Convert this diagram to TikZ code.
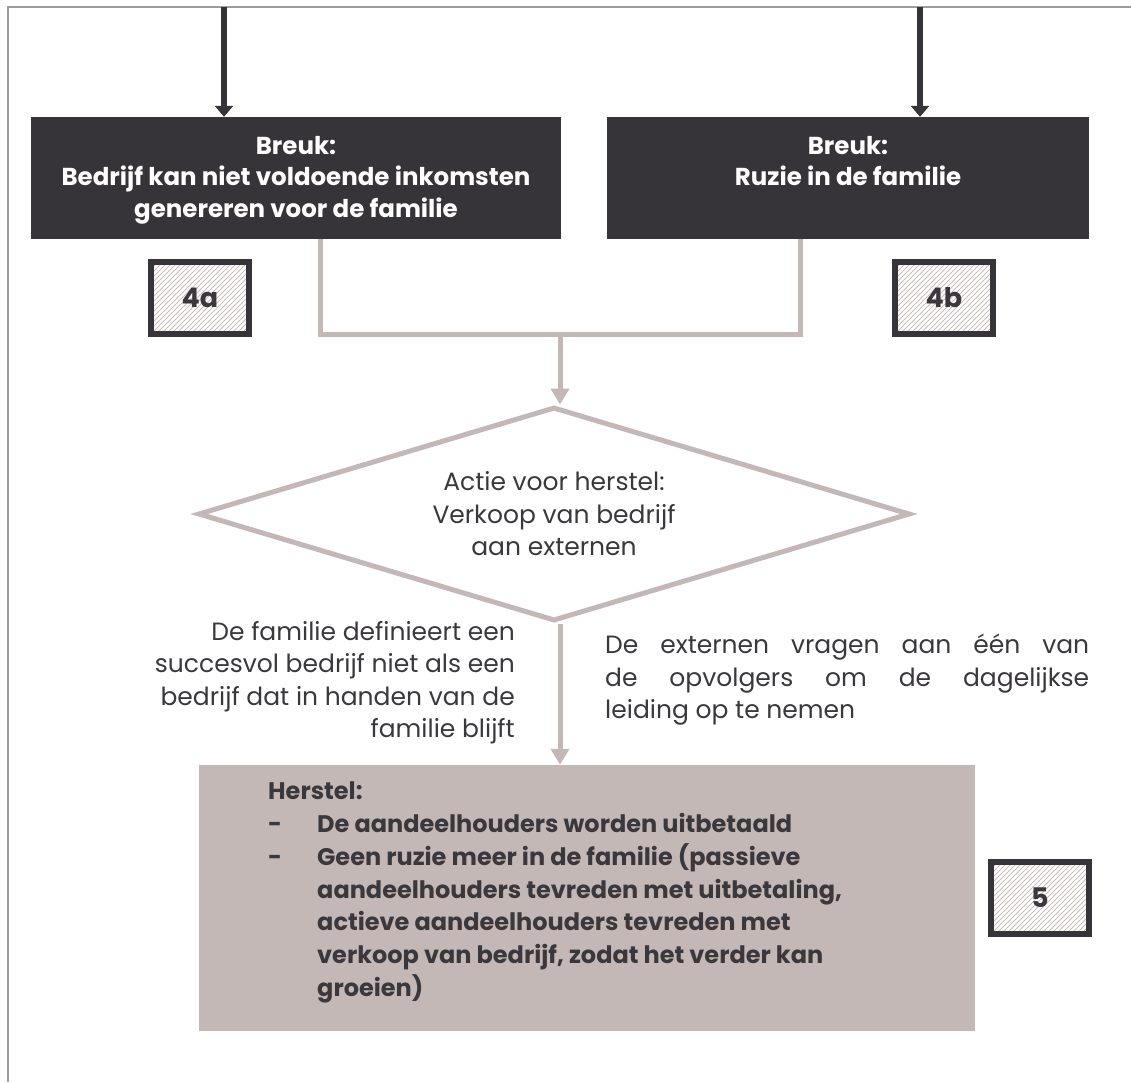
\documentclass[tikz,border=0pt]{standalone}
\usepackage{fontspec}
\setmainfont{Poppins}
\usetikzlibrary{arrows.meta,shapes.geometric,calc}

\definecolor{boxdark}{HTML}{363439}
\definecolor{taupe}{HTML}{C3B8B5}
\definecolor{hatchline}{HTML}{C9BEBB}
\definecolor{framegray}{HTML}{9C9C9C}
\definecolor{ink}{HTML}{3A383C}

\newcommand{\bigbold}{\fontsize{24.5}{31.5}\selectfont\bfseries}
\newcommand{\markfont}{\fontsize{27}{30}\selectfont\bfseries}
\newcommand{\plaintext}{\fontsize{25}{32.5}\selectfont}
\newcommand{\listtext}{\fontsize{24}{32.7}\selectfont\bfseries}

\tikzset{
  breukbox/.style={fill=boxdark, inner sep=0pt, minimum height=122pt},
  breuktext/.style={text=white, align=center, inner sep=0pt, font=\bigbold},
  numbox/.style={draw=boxdark, line width=6pt, minimum width=98pt,
    minimum height=72pt, inner sep=0pt, text=ink, font=\markfont,
    path picture={
      \foreach \k in {-100,-95,...,100}
        \draw[hatchline, line width=0.9pt]
          ($(path picture bounding box.south west)+(\k pt,-10pt)$) -- ++(100pt,100pt);
    }},
  darkarrow/.style={draw=boxdark, line width=6pt,
    -{Triangle[width=18pt,length=11pt]}},
  taupeline/.style={draw=taupe, line width=5pt, line join=miter},
  taupearrow/.style={taupeline, -{Triangle[width=18pt,length=16pt]}},
  sidetext/.style={text=ink, font=\plaintext, inner sep=0pt},
}

\begin{document}
\begin{tikzpicture}[x=1pt,y=-1pt]
\useasboundingbox (0,0) rectangle (1131,1082);

% page frame (top and left rule)
\draw[framegray, line width=1.5pt] (1131,7) -- (8,7) -- (8,1082);

% the two breaking points
\node[breukbox, minimum width=530pt] (b1) at (296,178) {};
\node[breukbox, minimum width=482pt] (b2) at (848,178) {};
\node[breuktext] (b1t) at ($(b1.center)+(0,2)$)
  {Breuk:\\Bedrijf kan niet voldoende inkomsten\\genereren voor de familie};
\node[breuktext, anchor=north] (b2t) at (b1t.north -| b2.center)
  {Breuk:\\Ruzie in de familie};

% incoming arrows from above
\coordinate (inA) at (224,7);
\coordinate (inB) at (920,7);
\draw[darkarrow] (inA) -- (inA |- b1.north);
\draw[darkarrow] (inB) -- (inB |- b2.north);

% step markers
\node[numbox] (m4a) at (200,298) {4a};
\node[numbox] (m4b) at (944,298) {4b};
\node[numbox] (m5) at (1040,898) {5};

% recovery action
\node[diamond, draw=taupe, line width=5pt, minimum width=712pt,
  minimum height=214pt, aspect=3.3, inner sep=0pt, align=center,
  text=ink, font=\plaintext] (dia) at (554,514)
  {Actie voor herstel:\\Verkoop van bedrijf\\aan externen};

% merging connector
\coordinate (jl) at (320,334.5);
\coordinate (jr) at (800,334.5);
\coordinate (jm) at (560,334.5);
\draw[taupeline] (b1.south -| jl) -- (jl) -- (jr) -- (b2.south -| jr);
\draw[taupearrow] (jm) -- (jm |- dia.north);

% recovery result
\node[fill=taupe, minimum width=776pt, minimum height=266pt, inner sep=0pt]
  (herst) at (587,898) {};
\node[anchor=north west, inner sep=0pt, text=ink, font=\listtext, align=left]
  (herstText) at (268,782)
  {Herstel:\\
   \makebox[49pt][l]{-}De aandeelhouders worden uitbetaald\\
   \makebox[49pt][l]{-}Geen ruzie meer in de familie (passieve\\
   \hspace*{49pt}aandeelhouders tevreden met uitbetaling,\\
   \hspace*{49pt}actieve aandeelhouders tevreden met\\
   \hspace*{49pt}verkoop van bedrijf, zodat het verder kan\\
   \hspace*{49pt}groeien)};

\draw[taupearrow] (jm |- dia.south) -- (jm |- herst.north);

% conditions beside the arrow
\node[sidetext, anchor=north east, align=right] (condL) at (515,621)
  {De familie definieert een\\succesvol bedrijf niet als een\\bedrijf dat in handen van de\\familie blijft};
\node[sidetext, anchor=north west, align=justify, text width=484pt] (condR) at (605,634)
  {De externen vragen aan één van\linebreak de opvolgers om de dagelijkse\linebreak leiding op te nemen};
\end{tikzpicture}
\end{document}
